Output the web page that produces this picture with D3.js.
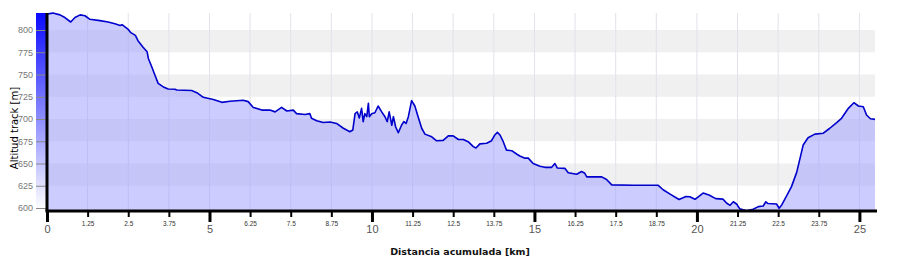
<!DOCTYPE html>
<html>
<head>
<meta charset="utf-8">
<script src="https://cdn.jsdelivr.net/npm/d3@7"></script>
<style>
  body { margin: 0; background: #fff; }
  svg { display: block; font-family: "DejaVu Sans", Verdana, sans-serif; }
</style>
</head>
<body>
<div id="chart"></div>
<script>
// Profile: distance (km) and altitude (m)
const distKm = [
  0.00, 0.18, 0.40, 0.55, 0.73, 0.86, 1.02, 1.17, 1.32, 1.63, 1.88, 2.09, 2.25, 2.31, 2.49, 2.58,
  2.72, 2.80, 2.95, 3.08, 3.12, 3.22, 3.32, 3.42, 3.58, 3.73, 3.94, 3.99, 4.45, 4.61, 4.81, 5.12,
  5.38, 5.63, 6.04, 6.19, 6.35, 6.61, 6.86, 7.02, 7.22, 7.38, 7.58, 7.68, 7.94, 8.09, 8.14, 8.30,
  8.50, 8.71, 8.91, 9.12, 9.32, 9.41, 9.48, 9.55, 9.61, 9.68, 9.73, 9.78, 9.84, 9.89, 9.92, 9.99,
  10.09, 10.19, 10.30, 10.40, 10.47, 10.53, 10.61, 10.66, 10.73, 10.81, 10.91, 10.98, 11.05, 11.12,
  11.22, 11.32, 11.42, 11.53, 11.63, 11.84, 11.99, 12.19, 12.35, 12.50, 12.66, 12.81, 12.96, 13.12,
  13.20, 13.32, 13.53, 13.68, 13.78, 13.86, 13.94, 14.04, 14.14, 14.30, 14.45, 14.55, 14.71, 14.81,
  14.96, 15.17, 15.32, 15.53, 15.63, 15.70, 15.94, 16.04, 16.30, 16.45, 16.55, 16.61, 17.07, 17.22,
  17.38, 18.04, 18.81, 18.96, 19.20, 19.45, 19.66, 19.78, 19.94, 20.19, 20.37, 20.58, 20.80, 20.92,
  21.02, 21.12, 21.22, 21.32, 21.53, 21.73, 21.89, 22.04, 22.12, 22.19, 22.45, 22.53, 22.61, 22.76,
  22.91, 23.07, 23.22, 23.27, 23.42, 23.63, 23.89, 24.09, 24.30, 24.45, 24.66, 24.83, 24.97, 25.12,
  25.22, 25.34, 25.48
];
const altitudeM = [
  818, 819, 817, 814, 809, 814, 817, 816, 812, 810.5, 809, 807, 805, 806, 801, 797,
  794, 788, 781, 775.6, 768, 759, 749.4, 740, 736, 733.7, 733.4, 732.6, 732, 729.6, 724.4, 722,
  718.7, 720, 721, 719.5, 713, 710, 710, 708, 713, 709, 710, 706, 705, 706, 700.8, 698,
  696, 696.6, 695, 689.6, 685.7, 687.6, 706, 708, 701, 712, 697, 706, 702.6, 717.6, 702.6, 706,
  707, 714.6, 708, 702.6, 697, 708, 693, 702.6, 691, 684.6, 693, 697, 695, 702.6,
  720.6, 714.6, 702.6, 689.6, 683, 680, 675.5, 676, 681, 681, 677, 677, 674.5, 669,
  667.4, 672, 672.7, 675.6, 682, 685, 682, 674.5, 665, 664.4, 660.7, 658.4, 656, 656,
  650, 647, 645.7, 645.7, 650, 645, 644.5, 639.7, 638, 641, 639, 635, 635, 632,
  626, 625.5, 625.5, 620.5, 615, 609.5, 613, 612.7, 609.8, 616.8, 614.6, 610.5, 610, 605.3,
  603, 607, 604.5, 599, 597, 598.5, 601.5, 602.2, 607, 605, 604.5, 599.7, 603.4, 613.5,
  624, 640, 663, 670.8, 679, 683, 684, 689.6, 696, 700.8, 712, 718.3, 714.6, 713.8,
  704.5, 700.3, 699.6
];

// Axis ticks
const majorTicksKm = [0, 5, 10, 15, 20, 25];
const minorTicksKm = [1.25, 2.5, 3.75, 6.25, 7.5, 8.75, 11.25, 12.5, 13.75, 16.25, 17.5, 18.75, 21.25, 22.5, 23.75];
const yTicksM = [600, 625, 650, 675, 700, 725, 750, 775, 800];
// Shaded background bands (lower, upper)
const bandsM = [[775, 800], [725, 750], [675, 700], [625, 650]];

const data = distKm.map((d, i) => ({ km: d, alt: altitudeM[i] }));

const width = 900, height = 258;
const plotLeft = 47, plotRight = 875, plotTop = 13, plotBottom = 210;

const svg = d3.select("#chart").append("svg")
  .attr("width", width)
  .attr("height", height);

const x = d3.scaleLinear().domain([0, 25.48]).range([plotLeft, plotRight]);
const y = d3.scaleLinear().domain([597.75, 819.1]).range([plotBottom, plotTop]);

// gradient bar on the left of the y axis
const grad = svg.append("defs").append("linearGradient")
  .attr("id", "barGrad").attr("x1", 0).attr("y1", 0).attr("x2", 0).attr("y2", 1);
grad.append("stop").attr("offset", "0%").attr("stop-color", "#0a0aff");
grad.append("stop").attr("offset", "100%").attr("stop-color", "#ffffff");
svg.append("rect")
  .attr("x", 36).attr("y", plotTop)
  .attr("width", plotLeft - 36).attr("height", plotBottom - plotTop)
  .attr("fill", "url(#barGrad)");

// background bands
svg.selectAll(".band").data(bandsM).enter().append("rect")
  .attr("x", plotLeft)
  .attr("y", d => y(d[1]))
  .attr("width", plotRight - plotLeft)
  .attr("height", d => y(d[0]) - y(d[1]))
  .attr("fill", "#f0f0f0");

// vertical grid
svg.selectAll(".vgrid").data(minorTicksKm.concat(majorTicksKm.slice(1))).enter().append("line")
  .attr("x1", d => x(d)).attr("x2", d => x(d))
  .attr("y1", plotTop).attr("y2", plotBottom)
  .attr("stroke", "#e2e2ea").attr("stroke-width", 1);

// area + line
const area = d3.area().x(d => x(d.km)).y0(plotBottom).y1(d => y(d.alt));
const line = d3.line().x(d => x(d.km)).y(d => y(d.alt));

svg.append("path").datum(data)
  .attr("d", area)
  .attr("fill", "#9999ff")
  .attr("fill-opacity", 0.5);

svg.append("path").datum(data)
  .attr("d", line)
  .attr("fill", "none")
  .attr("stroke", "#0000cc")
  .attr("stroke-width", 1.6)
  .attr("stroke-linejoin", "round");

// y axis ticks + labels
const yAxis = svg.append("g")
  .attr("transform", `translate(${plotLeft},0)`)
  .call(d3.axisLeft(y).tickValues(yTicksM).tickSize(11).tickPadding(3));
yAxis.select(".domain").remove();
yAxis.selectAll(".tick line").attr("stroke", "#888");
yAxis.selectAll("text").attr("fill", "#777").attr("font-size", 9);

// minor x ticks
const xMinor = svg.append("g")
  .attr("transform", `translate(0,${plotBottom + 1})`)
  .call(d3.axisBottom(x).tickValues(minorTicksKm).tickFormat(d => String(d)).tickSize(6).tickPadding(4.5));
xMinor.select(".domain").remove();
xMinor.selectAll(".tick line").attr("stroke", "#000").attr("stroke-width", 2);
xMinor.selectAll("text").attr("fill", "#333").attr("font-size", 6.5);

// major x ticks
const xMajor = svg.append("g")
  .attr("transform", `translate(0,${plotBottom + 1})`)
  .call(d3.axisBottom(x).tickValues(majorTicksKm).tickFormat(d => String(d)).tickSize(11).tickPadding(3));
xMajor.select(".domain").remove();
xMajor.selectAll(".tick line").attr("stroke", "#000").attr("stroke-width", 3);
xMajor.selectAll("text").attr("fill", "#555").attr("font-size", 11);

// thick axis lines
svg.append("line")
  .attr("x1", plotLeft).attr("x2", plotLeft)
  .attr("y1", plotTop).attr("y2", plotBottom + 1)
  .attr("stroke", "#000").attr("stroke-width", 3);
svg.append("line")
  .attr("x1", plotLeft - 1.5).attr("x2", plotRight + 2)
  .attr("y1", plotBottom + 1).attr("y2", plotBottom + 1)
  .attr("stroke", "#000").attr("stroke-width", 3);

// axis titles
svg.append("text")
  .attr("x", 460).attr("y", 255)
  .attr("text-anchor", "middle")
  .attr("font-size", 9.5)
  .attr("font-weight", "bold")
  .attr("fill", "#111")
  .text("Distancia acumulada [km]");

svg.append("text")
  .attr("transform", "translate(18,128) rotate(-90)")
  .attr("text-anchor", "middle")
  .attr("font-size", 10)
  .attr("fill", "#000")
  .text("Altitud track [m]");
</script>
</body>
</html>
